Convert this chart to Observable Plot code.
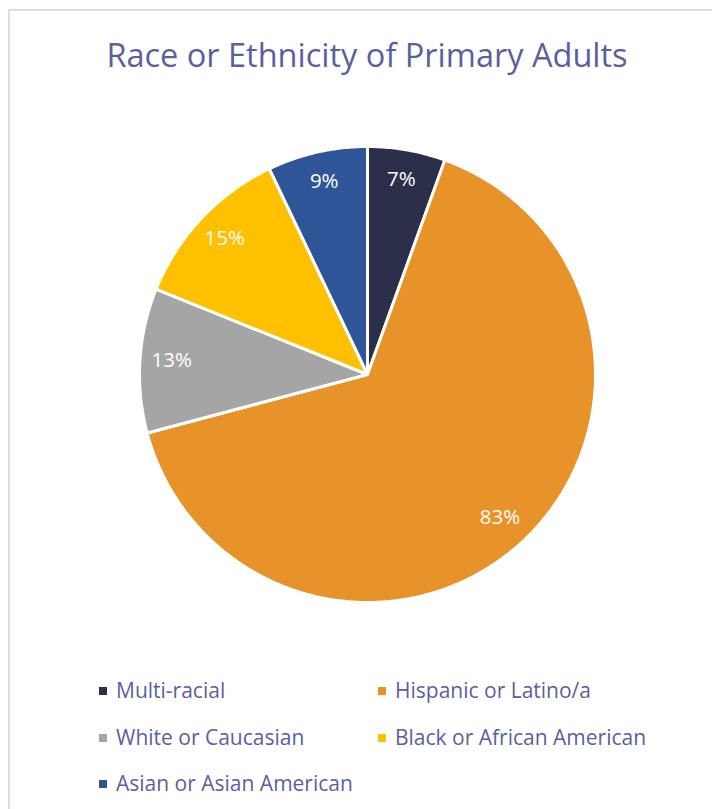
<!DOCTYPE html>
<html>
<head>
<meta charset="utf-8">
<script src="https://cdn.jsdelivr.net/npm/d3@7"></script>
<script src="https://cdn.jsdelivr.net/npm/@observablehq/plot@0.6"></script>
<style>
  html, body { margin: 0; padding: 0; background: #fff; }
  body { width: 712px; height: 809px; position: relative; overflow: hidden; font-family: "Open Sans", sans-serif; }
  #frame { position: absolute; left: 8px; top: 9px; width: 720px; height: 820px; border-left: 2px solid #dcdcea; border-top: 2px solid #dcdcea; box-sizing: border-box; }
  #title { position: absolute; left: 0; width: 734px; top: 33px; line-height: 44px; text-align: center; font-size: 32.5px; color: #5b5f9f; white-space: nowrap; }
  #chart { position: absolute; left: 0; top: 100px; }
  .leg { position: absolute; font-size: 21px; color: #5b5f9f; white-space: nowrap; line-height: 28px; }
  .sw { position: absolute; width: 8px; height: 8px; }
</style>
</head>
<body>
<div id="frame"></div>
<div id="title">Race or Ethnicity of Primary Adults</div>
<div id="chart"></div>
<div id="legend"></div>
<script>
const categories = ["Multi-racial", "Hispanic or Latino/a", "White or Caucasian", "Black or African American", "Asian or Asian American"];
const values = [7, 83, 13, 15, 9];
const labels = ["7%", "83%", "13%", "15%", "9%"];
const colors = ["#2b2f4a", "#e8922a", "#a5a5a5", "#ffc000", "#2e5597"];

const arcs = d3.pie().sort(null).value(d => d)(values);
const poly = [];
const labelPts = [];
arcs.forEach((a, i) => {
  const cat = categories[i];
  poly.push({cat, x: 0, y: 0});
  const n = Math.max(2, Math.ceil((a.endAngle - a.startAngle) / 0.01));
  for (let k = 0; k <= n; k++) {
    const t = a.startAngle + (a.endAngle - a.startAngle) * k / n;
    poly.push({cat, x: Math.sin(t), y: Math.cos(t)});
  }
  poly.push({cat, x: 0, y: 0});
  const m = (a.startAngle + a.endAngle) / 2;
  labelPts.push({x: 0.86 * Math.sin(m), y: 0.86 * Math.cos(m), text: labels[i]});
});

const chart = Plot.plot({
  width: 712,
  height: 560,
  marginLeft: 139,
  marginRight: 117,
  marginTop: 46,
  marginBottom: 58,
  x: {domain: [-1, 1], axis: null},
  y: {domain: [-1, 1], axis: null},
  color: {domain: categories, range: colors},
  style: {background: "transparent", fontFamily: "Open Sans, sans-serif"},
  marks: [
    Plot.line(poly, {x: "x", y: "y", z: "cat", fill: "cat", stroke: "white", strokeWidth: 3, strokeLinejoin: "round"}),
    Plot.text(labelPts, {x: "x", y: "y", text: "text", fill: "white", fontSize: 20.5, dy: -2})
  ]
});
document.getElementById("chart").appendChild(chart);

const legendPos = [[99, 691], [378, 691], [99, 738], [378, 738], [99, 784]];
const legend = document.getElementById("legend");
categories.forEach((c, i) => {
  const [lx, ly] = legendPos[i];
  const sw = document.createElement("div");
  sw.className = "sw";
  sw.style.left = lx + "px";
  sw.style.top = (ly - 4) + "px";
  sw.style.background = colors[i];
  legend.appendChild(sw);
  const t = document.createElement("div");
  t.className = "leg";
  t.style.left = (lx + 17) + "px";
  t.style.top = (ly - 15) + "px";
  t.textContent = c;
  legend.appendChild(t);
});
</script>
</body>
</html>
